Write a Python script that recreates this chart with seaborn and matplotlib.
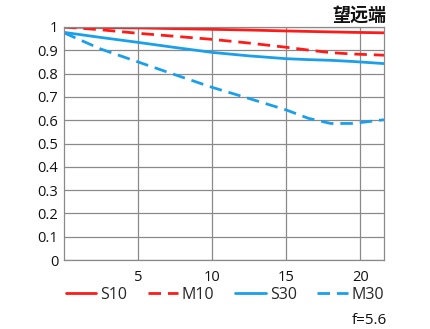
import matplotlib
matplotlib.use("Agg")
import matplotlib.pyplot as plt
import seaborn as sns
import pandas as pd

# data
image_height = [0, 2.5, 5, 7.5, 10, 12.5, 15, 16.5, 18, 19.5, 21.6]
s10 = [1.0, 0.998, 0.996, 0.993, 0.99, 0.987, 0.983, 0.981, 0.979, 0.977, 0.975]
m10 = [1.0, 0.988, 0.973, 0.960, 0.947, 0.931, 0.913, 0.901, 0.890, 0.884, 0.879]
s30 = [0.977, 0.955, 0.934, 0.912, 0.891, 0.876, 0.864, 0.860, 0.857, 0.852, 0.843]
m30 = [0.975, 0.905, 0.850, 0.795, 0.741, 0.693, 0.644, 0.608, 0.586, 0.586, 0.602]
series_names = ["S10", "M10", "S30", "M30"]
x_ticks = [5, 10, 15, 20]
y_ticks = [0, 0.1, 0.2, 0.3, 0.4, 0.5, 0.6, 0.7, 0.8, 0.9, 1]
y_tick_labels = ["0", "0.1", "0.2", "0.3", "0.4", "0.5", "0.6", "0.7", "0.8", "0.9", "1"]
title = "望远端"
aperture = "f=5.6"

sns.set_theme(style="white")
plt.rcParams['font.family'] = ['Open Sans', 'Noto Sans CJK SC', 'DejaVu Sans']

df = pd.DataFrame({
    "x": image_height * 4,
    "y": s10 + m10 + s30 + m30,
    "series": sum([[n] * len(image_height) for n in series_names], []),
})

RED = "#ff1a1a"
BLUE = "#1aa0ea"
palette = {"S10": RED, "M10": RED, "S30": BLUE, "M30": BLUE}
dashes = {"S10": "", "M10": (4.5, 2.5), "S30": "", "M30": (4.5, 2.5)}

fig = plt.figure(figsize=(4.31, 3.29), dpi=100)
ax = fig.add_axes([64 / 431, 1 - 260 / 329, 320 / 431, 233 / 329])

sns.lineplot(data=df, x="x", y="y", hue="series", style="series",
             palette=palette, dashes=dashes, hue_order=series_names,
             style_order=series_names, linewidth=2.0, ax=ax, legend=True)

ax.set_xlim(0, 21.6)
ax.set_ylim(0, 1)
ax.set_xticks(x_ticks)
ax.set_yticks(y_ticks)
ax.set_yticklabels(y_tick_labels)
ax.set_xlabel("")
ax.set_ylabel("")
ax.grid(True, color="#8a8a8a", linewidth=0.9)
ax.set_axisbelow(True)
for sp in ax.spines.values():
    sp.set_visible(True)
    sp.set_color("#8a8a8a")
    sp.set_linewidth(0.9)
ax.tick_params(axis="both", length=0, labelsize=10.5, colors="#111111")
ax.tick_params(axis="x", pad=7)
ax.tick_params(axis="y", pad=4)

handles, labels = ax.get_legend_handles_labels()
ax.legend(handles, labels, loc="center", bbox_to_anchor=(225 / 431, 1 - 295 / 329),
          bbox_transform=fig.transFigure, ncol=4, frameon=False,
          fontsize=11.5, handlelength=1.9, handletextpad=0.25, columnspacing=1.3,
          borderaxespad=0, borderpad=0)

fig.text(386 / 431, 1 - 15 / 329, title, ha="right", va="center",
         fontsize=13, fontweight="bold", family=['Noto Sans CJK SC', 'DejaVu Sans'],
         color="#111111")
fig.text(387 / 431, 1 - 320 / 329, aperture, ha="right", va="center",
         fontsize=11, color="#111111")

fig.savefig("out.png", dpi=100)
